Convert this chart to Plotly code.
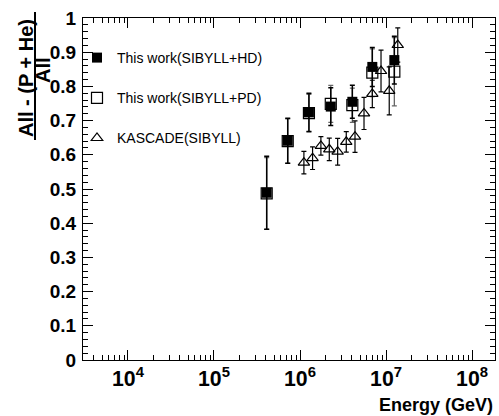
import plotly.graph_objects as go
import math

# ---- data ----
hd_x = [4.1e5, 7.2e5, 1.27e6, 2.28e6, 4.06e6, 6.93e6, 1.25e7]
hd_y = [0.489, 0.641, 0.724, 0.741, 0.755, 0.857, 0.877]
hd_err = [0.107, 0.066, 0.056, 0.055, 0.048, 0.057, 0.070]

pd_x = [4.1e5, 7.2e5, 1.27e6, 2.28e6, 4.06e6, 6.93e6, 1.25e7]
pd_y = [0.487, 0.640, 0.722, 0.749, 0.745, 0.840, 0.843]
pd_err = [0.105, 0.065, 0.055, 0.054, 0.050, 0.070, 0.100]

k_x = [1.11e6, 1.40e6, 1.75e6, 2.19e6, 2.74e6, 3.45e6, 4.36e6, 5.55e6, 6.93e6, 8.75e6, 1.09e7, 1.37e7]
k_y = [0.577, 0.590, 0.626, 0.616, 0.609, 0.638, 0.653, 0.721, 0.778, 0.845, 0.787, 0.921]
k_err = [0.033, 0.033, 0.027, 0.033, 0.039, 0.030, 0.046, 0.047, 0.040, 0.061, 0.070, 0.050]

names = ["This work(SIBYLL+HD)", "This work(SIBYLL+PD)", "KASCADE(SIBYLL)"]

FONT = "Liberation Sans, Arial, sans-serif"

fig = go.Figure()

fig.add_trace(go.Scatter(
    x=pd_x, y=pd_y, mode="markers", name=names[1], legendgroup="b", legendrank=2,
    marker=dict(symbol="square-open", size=11, color="black", line=dict(width=1.2)),
    error_y=dict(type="data", array=pd_err, color="#666666", thickness=1.3, width=2.5),
))
fig.add_trace(go.Scatter(
    x=hd_x, y=hd_y, mode="markers", name=names[0], legendgroup="a", legendrank=1,
    marker=dict(symbol="square", size=10, color="black"),
    error_y=dict(type="data", array=hd_err, color="black", thickness=1.5, width=2.5),
))
fig.add_trace(go.Scatter(
    x=k_x, y=k_y, mode="markers", name=names[2], legendgroup="c", legendrank=3,
    marker=dict(symbol="triangle-up-open", size=10, color="black", line=dict(width=1.2)),
    error_y=dict(type="data", array=k_err, color="black", thickness=1.2, width=2.5),
))

axis_common = dict(
    showline=True, linecolor="black", linewidth=1, mirror="allticks",
    ticks="inside", ticklen=10, tickcolor="black", tickwidth=1,
    showgrid=False, zeroline=False,
)

fig.update_xaxes(
    type="log", range=[math.log10(3000), math.log10(1.85e8)],
    dtick=1, exponentformat="power", showexponent="all",
    tickfont=dict(family=FONT, size=17, color="black", weight="bold"),
    minor=dict(ticks="inside", ticklen=5, tickcolor="black", showgrid=False),
    **axis_common,
)
fig.update_yaxes(
    range=[0, 1], dtick=0.1, tick0=0,
    tickfont=dict(family=FONT, size=19, color="black", weight="bold"),
    minor=dict(ticks="inside", ticklen=5, dtick=0.02, tickcolor="black", showgrid=False),
    ticklabelstandoff=2,
    **axis_common,
)

W, H = 499, 416
L, R, T, B = 83, 4, 18, 56
pw, ph = W - L - R, H - T - B

def px(xp):
    return (xp - L) / pw

def py(yp):
    return (H - B - yp) / ph

fig.update_layout(
    width=W, height=H,
    margin=dict(l=L, r=R, t=T, b=B, pad=0),
    paper_bgcolor="white", plot_bgcolor="white",
    showlegend=True,
    legend=dict(
        x=px(77), y=py(42), xanchor="left", yanchor="top",
        font=dict(family=FONT, size=14, color="black"),
        bgcolor="rgba(0,0,0,0)", traceorder="grouped", tracegroupgap=19,
    ),
    annotations=[
        dict(text="<b>All - (P + He)</b>", xref="paper", yref="paper",
             x=px(26), y=py(78), textangle=-90, showarrow=False,
             xanchor="center", yanchor="middle",
             font=dict(family=FONT, size=20, color="black")),
        dict(text="<b>All</b>", xref="paper", yref="paper",
             x=px(43), y=py(70), textangle=-90, showarrow=False,
             xanchor="center", yanchor="middle",
             font=dict(family=FONT, size=20, color="black")),
        dict(text="<b>Energy (GeV)</b>", xref="paper", yref="paper",
             x=1.0, y=py(405), showarrow=False,
             xanchor="right", yanchor="middle",
             font=dict(family=FONT, size=18, color="black")),
    ],
    shapes=[
        dict(type="line", xref="paper", yref="paper",
             x0=px(35), x1=px(35), y0=py(12), y1=py(140),
             line=dict(color="black", width=2)),
    ],
)

fig.write_html(
    "out.html",
    config={"displayModeBar": False},
    post_script="document.body.style.margin='0';document.body.style.padding='0';",
)
